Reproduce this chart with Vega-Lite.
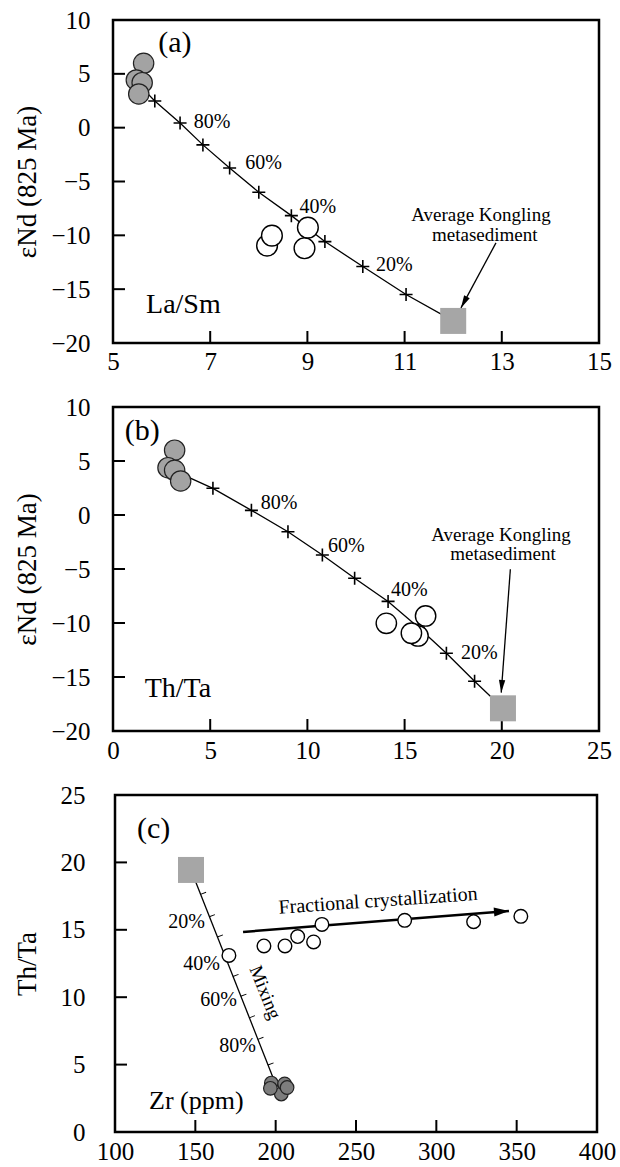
{
  "$schema": "https://vega.github.io/schema/vega-lite/v6.json",
  "background": "white",
  "padding": {"left": 11, "top": 6, "right": 2, "bottom": 2},
  "spacing": 64,
  "bounds": "flush",
  "center": true,
  "resolve": {"scale": {"x": "independent", "y": "independent"}},
  "config": {
    "font": "Liberation Serif",
    "view": {"stroke": "black", "strokeWidth": 2.5},
    "axis": {
      "domain": false, "grid": false, "ticks": false,
      "labelFont": "Liberation Serif", "labelFontSize": 25, "labelColor": "black",
      "titleFont": "Liberation Serif", "titleFontSize": 27, "titleFontWeight": "normal", "titleColor": "black",
      "labelFlush": false, "labelOverlap": false
    },
    "text": {"font": "Liberation Serif", "color": "black"}
  },
  "datasets": {
    "a_xt": [{"x": 7, "y": -20}, {"x": 9, "y": -20}, {"x": 11, "y": -20}, {"x": 13, "y": -20}],
    "a_yt": [{"x": 5, "y": -15}, {"x": 5, "y": -10}, {"x": 5, "y": -5}, {"x": 5, "y": 0}, {"x": 5, "y": 5}],
    "b_xt": [{"x": 5, "y": -20}, {"x": 10, "y": -20}, {"x": 15, "y": -20}, {"x": 20, "y": -20}],
    "b_yt": [{"x": 0, "y": -15}, {"x": 0, "y": -10}, {"x": 0, "y": -5}, {"x": 0, "y": 0}, {"x": 0, "y": 5}],
    "c_xt": [{"x": 150, "y": 0}, {"x": 200, "y": 0}, {"x": 250, "y": 0}, {"x": 300, "y": 0}, {"x": 350, "y": 0}],
    "c_yt": [{"x": 100, "y": 5}, {"x": 100, "y": 10}, {"x": 100, "y": 15}, {"x": 100, "y": 20}],
    "a_mix": [
      {"x": 5.62, "y": 3.6, "pct": null},
      {"x": 5.86, "y": 2.48, "pct": 90},
      {"x": 6.38, "y": 0.43, "pct": 80},
      {"x": 6.85, "y": -1.6, "pct": 70},
      {"x": 7.4, "y": -3.75, "pct": 60},
      {"x": 8.0, "y": -6.0, "pct": 50},
      {"x": 8.67, "y": -8.17, "pct": 40},
      {"x": 9.36, "y": -10.58, "pct": 30},
      {"x": 10.14, "y": -12.9, "pct": 20},
      {"x": 11.03, "y": -15.5, "pct": 10},
      {"x": 12.0, "y": -17.95, "pct": null}
    ],
    "a_gray": [
      {"x": 5.63, "y": 5.98}, {"x": 5.48, "y": 4.43}, {"x": 5.6, "y": 4.18}, {"x": 5.53, "y": 3.13}
    ],
    "a_open": [
      {"x": 8.17, "y": -10.96}, {"x": 8.27, "y": -10.03}, {"x": 8.94, "y": -11.2}, {"x": 9.01, "y": -9.28}
    ],
    "a_end": [{"x": 12.0, "y": -17.95}],
    "a_pct": [
      {"x": 6.66, "y": 0.53, "text": "80%"},
      {"x": 7.72, "y": -3.28, "text": "60%"},
      {"x": 8.84, "y": -7.33, "text": "40%"},
      {"x": 10.41, "y": -12.75, "text": "20%"}
    ],
    "a_tag": [{"x": 5.93, "y": 7.86, "text": "(a)"}],
    "a_lab": [{"x": 5.68, "y": -16.46, "text": "La/Sm"}],
    "a_note": [
      {"x": 12.57, "y": -8.1, "text": "Average Kongling"},
      {"x": 12.65, "y": -9.96, "text": "metasediment"}
    ],
    "a_arrow": [
      {"x": 12.88, "y": -10.7, "part": "tail"},
      {"x": 12.16, "y": -16.74, "part": "tip"}
    ],
    "b_mix": [
      {"x": 3.3, "y": 3.97, "pct": null},
      {"x": 5.14, "y": 2.47, "pct": 90},
      {"x": 7.12, "y": 0.43, "pct": 80},
      {"x": 9.0, "y": -1.55, "pct": 70},
      {"x": 10.77, "y": -3.7, "pct": 60},
      {"x": 12.43, "y": -5.86, "pct": 50},
      {"x": 14.15, "y": -8.0, "pct": 40},
      {"x": 15.7, "y": -10.4, "pct": 30},
      {"x": 17.15, "y": -12.8, "pct": 20},
      {"x": 18.6, "y": -15.4, "pct": 10},
      {"x": 20.06, "y": -17.9, "pct": null}
    ],
    "b_gray": [
      {"x": 3.17, "y": 6.0}, {"x": 2.83, "y": 4.38}, {"x": 3.17, "y": 4.14}, {"x": 3.48, "y": 3.15}
    ],
    "b_open": [
      {"x": 14.06, "y": -10.03}, {"x": 15.69, "y": -11.2}, {"x": 15.35, "y": -10.95}, {"x": 16.08, "y": -9.35}
    ],
    "b_end": [{"x": 20.06, "y": -17.9}],
    "b_pct": [
      {"x": 7.6, "y": 1.14, "text": "80%"},
      {"x": 11.06, "y": -2.87, "text": "60%"},
      {"x": 14.3, "y": -6.97, "text": "40%"},
      {"x": 17.9, "y": -12.75, "text": "20%"}
    ],
    "b_tag": [{"x": 0.6, "y": 7.78, "text": "(b)"}],
    "b_lab": [{"x": 1.63, "y": -16.14, "text": "Th/Ta"}],
    "b_note": [
      {"x": 19.96, "y": -1.85, "text": "Average Kongling"},
      {"x": 20.06, "y": -3.6, "text": "metasediment"}
    ],
    "b_arrow": [
      {"x": 20.44, "y": -5.03, "part": "tail"},
      {"x": 19.97, "y": -16.45, "part": "tip"}
    ],
    "c_mix": [
      {"x": 147.3, "y": 19.44}, {"x": 199.8, "y": 3.6}
    ],
    "c_ticks": [
      {"x": 153.1, "y": 17.66}, {"x": 158.6, "y": 16.0}, {"x": 163.6, "y": 14.5},
      {"x": 168.6, "y": 13.0}, {"x": 173.3, "y": 11.57}, {"x": 178.2, "y": 10.1},
      {"x": 183.5, "y": 8.5}, {"x": 188.8, "y": 6.9}, {"x": 195.1, "y": 5.0}
    ],
    "c_fc": [
      {"x": 179.7, "y": 14.84, "part": "tail"},
      {"x": 345.2, "y": 16.4, "part": "tip"}
    ],
    "c_open": [
      {"x": 170.9, "y": 13.1}, {"x": 192.7, "y": 13.8}, {"x": 205.8, "y": 13.8},
      {"x": 213.7, "y": 14.5}, {"x": 223.6, "y": 14.1}, {"x": 228.8, "y": 15.4},
      {"x": 280.3, "y": 15.7}, {"x": 323.2, "y": 15.6}, {"x": 352.6, "y": 16.0}
    ],
    "c_gray": [
      {"x": 203.5, "y": 2.82}, {"x": 197.3, "y": 3.63}, {"x": 205.6, "y": 3.56},
      {"x": 196.7, "y": 3.24}, {"x": 207.1, "y": 3.3}
    ],
    "c_end": [{"x": 147.3, "y": 19.44}],
    "c_pct": [
      {"x": 156.0, "y": 15.6, "text": "20%"},
      {"x": 165.3, "y": 12.46, "text": "40%"},
      {"x": 175.9, "y": 9.8, "text": "60%"},
      {"x": 187.7, "y": 6.4, "text": "80%"}
    ],
    "c_tag": [{"x": 113.7, "y": 22.5, "text": "(c)"}],
    "c_lab": [{"x": 121.2, "y": 2.32, "text": "Zr (ppm)"}],
    "c_fctext": [{"x": 263.7, "y": 17.15, "text": "Fractional crystallization"}],
    "c_mixtext": [{"x": 193.5, "y": 10.36, "text": "Mixing"}]
  },
  "vconcat": [
    {
      "width": 486, "height": 323,
      "encoding": {
        "x": {"field": "x", "type": "quantitative", "scale": {"domain": [5, 15], "nice": false, "zero": false},
              "axis": {"values": [5, 7, 9, 11, 13, 15], "title": null, "labelPadding": 6, "labelFont": "Liberation Serif", "labelFontSize": 25}},
        "y": {"field": "y", "type": "quantitative", "scale": {"domain": [-20, 10], "nice": false, "zero": false},
              "axis": {"values": [-20, -15, -10, -5, 0, 5, 10], "title": "εNd (825 Ma)", "titleX": -72, "labelPadding": 23, "labelFont": "Liberation Serif", "labelFontSize": 25, "titleFont": "Liberation Serif", "titleFontSize": 27}}
      },
      "layer": [
        {"data": {"name": "a_xt"}, "mark": {"type": "tick", "orient": "vertical", "size": 12, "thickness": 2, "yOffset": -6, "color": "black", "opacity": 1}},
        {"data": {"name": "a_yt"}, "mark": {"type": "tick", "orient": "horizontal", "size": 12, "thickness": 2, "xOffset": 6, "color": "black", "opacity": 1}},
        {"data": {"name": "a_mix"}, "mark": {"type": "line", "color": "black", "strokeWidth": 1.3}},
        {"data": {"name": "a_mix"}, "transform": [{"filter": "datum.pct != null"}],
         "mark": {"type": "point", "shape": "M-1,0L1,0M0,-1L0,1", "size": 169, "filled": false, "stroke": "black", "strokeWidth": 1.6, "opacity": 1}},
        {"data": {"name": "a_open"}, "mark": {"type": "point", "shape": "circle", "size": 430, "filled": true, "fill": "white", "stroke": "black", "strokeWidth": 1.4, "opacity": 1}},
        {"data": {"name": "a_gray"}, "mark": {"type": "point", "shape": "circle", "size": 415, "filled": true, "fill": "#a3a3a3", "stroke": "#222222", "strokeWidth": 1.2, "opacity": 1}},
        {"data": {"name": "a_end"}, "mark": {"type": "point", "shape": "square", "size": 676, "filled": true, "fill": "#a6a6a6", "strokeWidth": 0, "opacity": 1}},
        {"data": {"name": "a_pct"}, "mark": {"type": "text", "align": "left", "baseline": "middle", "fontSize": 20}, "encoding": {"text": {"field": "text"}}},
        {"data": {"name": "a_tag"}, "mark": {"type": "text", "align": "left", "baseline": "middle", "fontSize": 30}, "encoding": {"text": {"field": "text"}}},
        {"data": {"name": "a_lab"}, "mark": {"type": "text", "align": "left", "baseline": "middle", "fontSize": 28}, "encoding": {"text": {"field": "text"}}},
        {"data": {"name": "a_note"}, "mark": {"type": "text", "align": "center", "baseline": "middle", "fontSize": 19}, "encoding": {"text": {"field": "text"}}},
        {"data": {"name": "a_arrow"}, "mark": {"type": "line", "color": "black", "strokeWidth": 1.3}},
        {"data": {"name": "a_arrow"}, "transform": [{"filter": "datum.part == 'tip'"}],
         "mark": {"type": "point", "shape": "M0,0L0.5,2L-0.5,2Z", "size": 160, "filled": true, "fill": "black", "strokeWidth": 0, "angle": 208, "opacity": 1}}
      ]
    },
    {
      "width": 486, "height": 324,
      "encoding": {
        "x": {"field": "x", "type": "quantitative", "scale": {"domain": [0, 25], "nice": false, "zero": false},
              "axis": {"values": [0, 5, 10, 15, 20, 25], "title": null, "labelPadding": 7, "labelFont": "Liberation Serif", "labelFontSize": 25}},
        "y": {"field": "y", "type": "quantitative", "scale": {"domain": [-20, 10], "nice": false, "zero": false},
              "axis": {"values": [-20, -15, -10, -5, 0, 5, 10], "title": "εNd (825 Ma)", "titleX": -72, "labelPadding": 23, "labelFont": "Liberation Serif", "labelFontSize": 25, "titleFont": "Liberation Serif", "titleFontSize": 27}}
      },
      "layer": [
        {"data": {"name": "b_xt"}, "mark": {"type": "tick", "orient": "vertical", "size": 12, "thickness": 2, "yOffset": -6, "color": "black", "opacity": 1}},
        {"data": {"name": "b_yt"}, "mark": {"type": "tick", "orient": "horizontal", "size": 12, "thickness": 2, "xOffset": 6, "color": "black", "opacity": 1}},
        {"data": {"name": "b_mix"}, "mark": {"type": "line", "color": "black", "strokeWidth": 1.3}},
        {"data": {"name": "b_mix"}, "transform": [{"filter": "datum.pct != null"}],
         "mark": {"type": "point", "shape": "M-1,0L1,0M0,-1L0,1", "size": 169, "filled": false, "stroke": "black", "strokeWidth": 1.6, "opacity": 1}},
        {"data": {"name": "b_open"}, "mark": {"type": "point", "shape": "circle", "size": 415, "filled": true, "fill": "white", "stroke": "black", "strokeWidth": 1.4, "opacity": 1}},
        {"data": {"name": "b_gray"}, "mark": {"type": "point", "shape": "circle", "size": 415, "filled": true, "fill": "#a3a3a3", "stroke": "#222222", "strokeWidth": 1.2, "opacity": 1}},
        {"data": {"name": "b_end"}, "mark": {"type": "point", "shape": "square", "size": 676, "filled": true, "fill": "#a6a6a6", "strokeWidth": 0, "opacity": 1}},
        {"data": {"name": "b_pct"}, "mark": {"type": "text", "align": "left", "baseline": "middle", "fontSize": 20}, "encoding": {"text": {"field": "text"}}},
        {"data": {"name": "b_tag"}, "mark": {"type": "text", "align": "left", "baseline": "middle", "fontSize": 30}, "encoding": {"text": {"field": "text"}}},
        {"data": {"name": "b_lab"}, "mark": {"type": "text", "align": "left", "baseline": "middle", "fontSize": 28}, "encoding": {"text": {"field": "text"}}},
        {"data": {"name": "b_note"}, "mark": {"type": "text", "align": "center", "baseline": "middle", "fontSize": 19}, "encoding": {"text": {"field": "text"}}},
        {"data": {"name": "b_arrow"}, "mark": {"type": "line", "color": "black", "strokeWidth": 1.3}},
        {"data": {"name": "b_arrow"}, "transform": [{"filter": "datum.part == 'tip'"}],
         "mark": {"type": "point", "shape": "M0,0L0.5,2L-0.5,2Z", "size": 160, "filled": true, "fill": "black", "strokeWidth": 0, "angle": 184, "opacity": 1}}
      ]
    },
    {
      "width": 482, "height": 337,
      "encoding": {
        "x": {"field": "x", "type": "quantitative", "scale": {"domain": [100, 400], "nice": false, "zero": false},
              "axis": {"values": [100, 150, 200, 250, 300, 350, 400], "title": null, "labelPadding": 7, "labelFont": "Liberation Serif", "labelFontSize": 25}},
        "y": {"field": "y", "type": "quantitative", "scale": {"domain": [0, 25], "nice": false, "zero": false},
              "axis": {"values": [0, 5, 10, 15, 20, 25], "title": "Th/Ta", "titleX": -74, "labelPadding": 30, "labelFont": "Liberation Serif", "labelFontSize": 25, "titleFont": "Liberation Serif", "titleFontSize": 27}}
      },
      "layer": [
        {"data": {"name": "c_xt"}, "mark": {"type": "tick", "orient": "vertical", "size": 12, "thickness": 2, "yOffset": -6, "color": "black", "opacity": 1}},
        {"data": {"name": "c_yt"}, "mark": {"type": "tick", "orient": "horizontal", "size": 12, "thickness": 2, "xOffset": 6, "color": "black", "opacity": 1}},
        {"data": {"name": "c_mix"}, "mark": {"type": "line", "color": "black", "strokeWidth": 1.3}},
        {"data": {"name": "c_ticks"}, "mark": {"type": "point", "shape": "M0,0L2,0L2,0.3L0,0.3Z", "size": 36, "filled": true, "fill": "black", "strokeWidth": 0, "angle": -21, "opacity": 1}},
        {"data": {"name": "c_fc"}, "mark": {"type": "line", "color": "black", "strokeWidth": 2.5}},
        {"data": {"name": "c_fc"}, "transform": [{"filter": "datum.part == 'tip'"}],
         "mark": {"type": "point", "shape": "M0,0L0.6,2L-0.6,2Z", "size": 225, "filled": true, "fill": "black", "strokeWidth": 0, "angle": 85.5, "opacity": 1}},
        {"data": {"name": "c_open"}, "mark": {"type": "point", "shape": "circle", "size": 185, "filled": true, "fill": "white", "stroke": "black", "strokeWidth": 1.4, "opacity": 1}},
        {"data": {"name": "c_gray"}, "mark": {"type": "point", "shape": "circle", "size": 185, "filled": true, "fill": "#7d7d7d", "stroke": "#222222", "strokeWidth": 1.2, "opacity": 1}},
        {"data": {"name": "c_end"}, "mark": {"type": "point", "shape": "square", "size": 676, "filled": true, "fill": "#a6a6a6", "strokeWidth": 0, "opacity": 1}},
        {"data": {"name": "c_pct"}, "mark": {"type": "text", "align": "right", "baseline": "middle", "fontSize": 20}, "encoding": {"text": {"field": "text"}}},
        {"data": {"name": "c_tag"}, "mark": {"type": "text", "align": "left", "baseline": "middle", "fontSize": 30}, "encoding": {"text": {"field": "text"}}},
        {"data": {"name": "c_lab"}, "mark": {"type": "text", "align": "left", "baseline": "middle", "fontSize": 26}, "encoding": {"text": {"field": "text"}}},
        {"data": {"name": "c_fctext"}, "mark": {"type": "text", "align": "center", "baseline": "middle", "fontSize": 20, "angle": -4}, "encoding": {"text": {"field": "text"}}},
        {"data": {"name": "c_mixtext"}, "mark": {"type": "text", "align": "center", "baseline": "middle", "fontSize": 19, "angle": 68}, "encoding": {"text": {"field": "text"}}}
      ]
    }
  ]
}
